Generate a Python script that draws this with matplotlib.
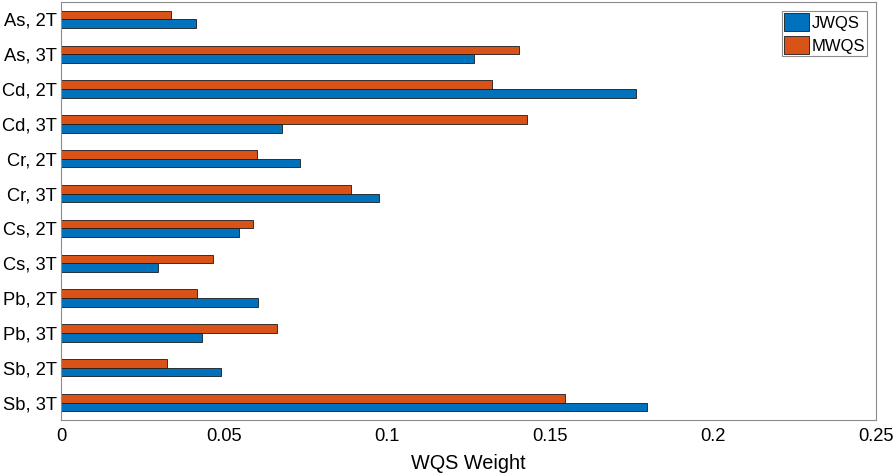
import numpy as np
import matplotlib.pyplot as plt

plt.rcParams['font.family'] = ['Liberation Sans', 'DejaVu Sans']

# categories, top to bottom
labels = ['As, 2T', 'As, 3T', 'Cd, 2T', 'Cd, 3T', 'Cr, 2T', 'Cr, 3T',
          'Cs, 2T', 'Cs, 3T', 'Pb, 2T', 'Pb, 3T', 'Sb, 2T', 'Sb, 3T']

# WQS weights
jwqs = [0.0413, 0.1266, 0.1763, 0.0677, 0.0732, 0.0976,
        0.0545, 0.0297, 0.0603, 0.0433, 0.0491, 0.1797]
mwqs = [0.0337, 0.1405, 0.1322, 0.1429, 0.0600, 0.0890,
        0.0590, 0.0466, 0.0418, 0.0663, 0.0324, 0.1545]

blue = '#0072BD'
orange = '#D95319'

fig = plt.figure(figsize=(8.94, 4.76), dpi=100)
ax = fig.add_axes([0.0682, 0.1176, 0.98 - 0.0682, 0.9958 - 0.1176])

y = np.arange(1, len(labels) + 1)
h = 0.25
ax.barh(y + h / 2, jwqs, height=h, color=blue, edgecolor='#1a1a1a',
        linewidth=0.6, label='JWQS')
ax.barh(y - h / 2, mwqs, height=h, color=orange, edgecolor='#1a1a1a',
        linewidth=0.6, label='MWQS')

ax.set_ylim(12.5, 0.5)
ax.set_xlim(0, 0.25)
ax.set_yticks(y)
ax.set_yticklabels(labels)
ax.set_xticks([0, 0.05, 0.1, 0.15, 0.2, 0.25])
ax.set_xticklabels(['0', '0.05', '0.1', '0.15', '0.2', '0.25'])
ax.tick_params(length=0, labelsize=13.2)
ax.tick_params(axis='y', pad=3)
ax.tick_params(axis='x', pad=6)
ax.set_xlabel('WQS Weight', fontsize=14.3, labelpad=6)

for s in ax.spines.values():
    s.set_color('#8c8c8c')
    s.set_linewidth(0.8)

leg = ax.legend(loc='upper right', fontsize=12, fancybox=False,
                framealpha=1, edgecolor='#8c8c8c', borderpad=0.12,
                handlelength=1.55, handleheight=1.3, handletextpad=0.12,
                labelspacing=0.3, borderaxespad=0.55)
leg.get_frame().set_linewidth(0.8)

fig.savefig('out.png', dpi=100)
